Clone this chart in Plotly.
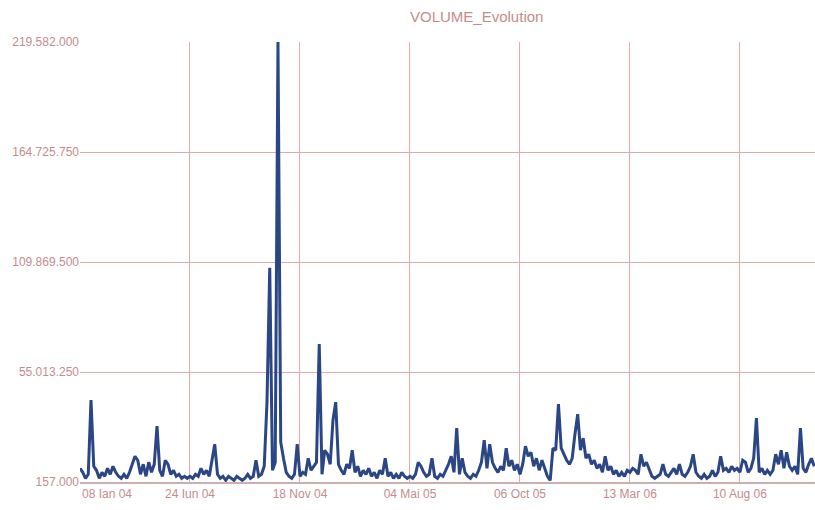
import plotly.graph_objects as go

# Volume series (thousands), one value per step
volume_k = [
    7, 5, 2, 4, 41, 8, 6, 2, 5, 3, 7, 4, 8, 5, 3, 2, 4, 2, 5, 9,
    13, 11, 4, 9, 3, 10, 5, 9, 28, 6, 3, 11, 9, 4, 6, 3, 4, 2, 3, 2,
    3, 2, 4, 3, 7, 4, 6, 3, 12, 19, 4, 2, 3, 1, 3, 2, 1, 3, 2, 1,
    2, 4, 2, 3, 11, 3, 4, 8, 40, 107, 6, 10, 219.582, 20, 12, 5, 3, 2, 4, 19,
    3, 5, 4, 12, 6, 8, 10, 69, 4, 16, 14, 9, 31, 40, 9, 6, 4, 9, 7, 16,
    5, 8, 3, 6, 4, 7, 3, 5, 2, 6, 4, 12, 3, 5, 2, 4, 2, 5, 3, 2,
    3, 2, 4, 10, 8, 5, 3, 4, 12, 3, 2, 4, 3, 6, 9, 13, 5, 27, 4, 12,
    5, 3, 2, 4, 3, 6, 10, 21, 7, 19, 10, 7, 5, 8, 6, 17, 8, 11, 6, 9,
    4, 9, 18, 13, 15, 8, 12, 6, 11, 7, 3, 1, 17, 16, 39, 17, 14, 11, 9, 12,
    24, 34, 16, 22, 12, 14, 9, 11, 7, 9, 5, 13, 6, 8, 4, 6, 3, 5, 3, 6,
    5, 7, 6, 4, 14, 8, 10, 6, 3, 2, 3, 4, 9, 4, 3, 5, 7, 4, 9, 4,
    3, 5, 8, 14, 5, 3, 2, 4, 2, 3, 6, 3, 5, 13, 6, 7, 5, 8, 6, 7,
    5, 11, 10, 5, 7, 12, 32, 5, 7, 4, 6, 4, 6, 14, 9, 16, 7, 15, 8, 6,
    8, 4, 27, 7, 5, 9, 12, 8,
]
volume = [v * 1000 for v in volume_k]
step_index = list(range(len(volume)))

# Axis ticks
x_tick_index = [0, 40, 80, 120, 160, 200, 240]
x_tick_labels = ["08 Ian 04", "24 Iun 04", "18 Nov 04", "04 Mai 05",
                 "06 Oct 05", "13 Mar 06", "10 Aug 06"]
y_tick_values = [157, 55013.25, 109869.5, 164725.75, 219582]
y_tick_labels = ["157.000", "55.013.250", "109.869.500", "164.725.750", "219.582.000"]

grid_col = "rgb(226,170,170)"
label_col = "rgb(196,140,140)"

fig = go.Figure(go.Scatter(
    x=step_index, y=volume, mode="lines",
    line=dict(color="rgb(42,70,132)", width=3),
    hoverinfo="skip",
))

# first x label sits left-aligned at its gridline (as in the reference)
annotations = [
    dict(text="VOLUME_Evolution", xref="paper", yref="paper",
         x=0.54, y=1, yshift=26, xanchor="center", yanchor="middle",
         showarrow=False, font=dict(size=15, color=label_col)),
    dict(text=x_tick_labels[0], xref="x", yref="paper",
         x=x_tick_index[0], y=0, yshift=-3, xanchor="left", yanchor="top",
         showarrow=False, font=dict(size=12, color=label_col)),
]
tick_text = [""] + x_tick_labels[1:]

fig.update_layout(
    width=815, height=510,
    margin=dict(l=80, r=0, t=42, b=28),
    paper_bgcolor="white", plot_bgcolor="white",
    showlegend=False,
    font=dict(family="Liberation Sans, Arial, sans-serif", size=12, color=label_col),
    annotations=annotations,
)
fig.update_xaxes(
    range=[0, 267.3], tickvals=x_tick_index, ticktext=tick_text,
    showgrid=True, gridcolor=grid_col, gridwidth=1.4,
    zeroline=False, showline=True, linecolor="rgb(205,175,175)", linewidth=1.5,
    ticks="", ticklen=0, tickfont=dict(size=12, color=label_col),
)
fig.update_yaxes(
    range=[157, 219582], tickvals=y_tick_values, ticktext=y_tick_labels,
    showgrid=True, gridcolor=grid_col, gridwidth=1.4,
    zeroline=False, showline=False, ticks="",
    tickfont=dict(size=12, color=label_col),
)

fig.write_html(
    "out.html",
    config={"displayModeBar": False},
    post_script="document.body.style.margin='0px';document.body.style.overflow='hidden';",
)
